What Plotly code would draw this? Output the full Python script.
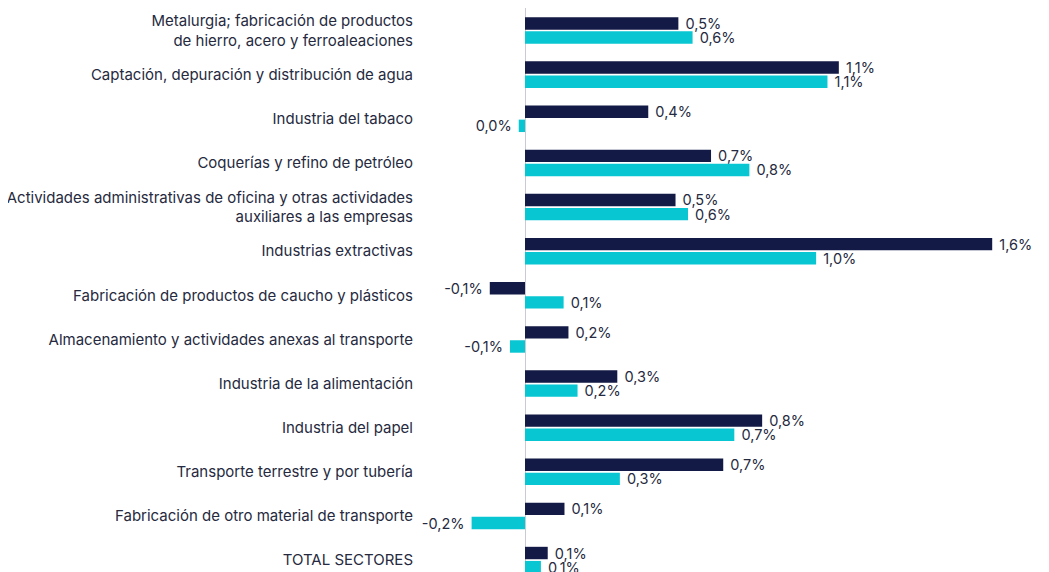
import plotly.graph_objects as go

categories = [
    "Metalurgia; fabricación de productos<br>de hierro, acero y ferroaleaciones",
    "Captación, depuración y distribución de agua",
    "Industria del tabaco",
    "Coquerías y refino de petróleo",
    "Actividades administrativas de oficina y otras actividades<br>auxiliares a las empresas",
    "Industrias extractivas",
    "Fabricación de productos de caucho y plásticos",
    "Almacenamiento y actividades anexas al transporte",
    "Industria de la alimentación",
    "Industria del papel",
    "Transporte terrestre y por tubería",
    "Fabricación de otro material de transporte",
    "TOTAL SECTORES",
]

serie_1 = [0.54, 1.105, 0.434, 0.655, 0.53, 1.645, -0.124, 0.153, 0.325, 0.835, 0.698, 0.139, 0.08]
serie_2 = [0.59, 1.065, -0.022, 0.79, 0.574, 1.025, 0.136, -0.053, 0.185, 0.737, 0.334, -0.188, 0.056]

DARK = "#131a45"
CYAN = "#08c6d2"
TEXT = "#262a40"
FONT = "Inter"
NB = "\u00a0"


def fmt(v):
    s = f"{v:.1f}"
    if s == "-0.0":
        s = "0.0"
    s = s.replace(".", ",") + "%"
    return (s + NB) if v < 0 else (NB + s)


fig = go.Figure()
for vals, col in [(serie_1, DARK), (serie_2, CYAN)]:
    fig.add_trace(go.Bar(
        y=categories, x=vals, orientation="h",
        marker=dict(color=col, line=dict(width=0)),
        text=[fmt(v) for v in vals],
        textposition="outside",
        constraintext="none",
        textfont=dict(family=FONT, size=14.5, color=TEXT),
        cliponaxis=False,
        showlegend=False,
    ))

fig.update_layout(
    width=1041, height=564,
    margin=dict(l=412, r=0, t=0, b=0),
    paper_bgcolor="white", plot_bgcolor="white",
    barmode="group", bargap=0.36, bargroupgap=0.12,
    font=dict(family=FONT, size=15, color=TEXT),
)
fig.update_xaxes(
    range=[-0.3697, 1.845], showgrid=False, showticklabels=False,
    zeroline=True, zerolinecolor="#c9cad3", zerolinewidth=1,
)
fig.update_yaxes(
    range=[12.27, -0.51], showgrid=False, ticks="",
    tickfont=dict(family=FONT, size=15, color=TEXT),
    ticklabelstandoff=6,
)

fig.write_html("out.html")
